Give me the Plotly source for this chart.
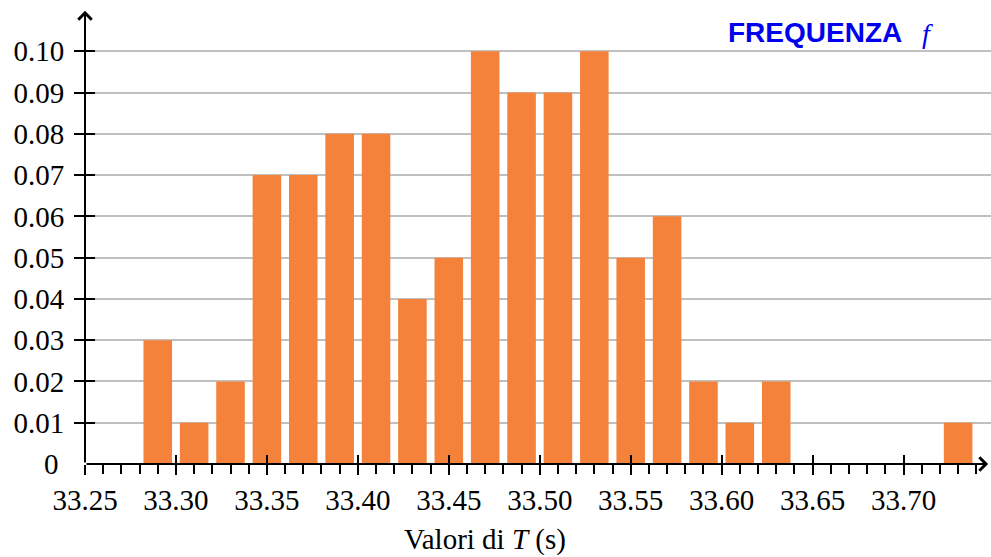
import plotly.graph_objects as go

centers = [33.29, 33.31, 33.33, 33.35, 33.37, 33.39, 33.41, 33.43, 33.45, 33.47,
           33.49, 33.51, 33.53, 33.55, 33.57, 33.59, 33.61, 33.63, 33.65, 33.67,
           33.69, 33.71, 33.73]
freq = [0.03, 0.01, 0.02, 0.07, 0.07, 0.08, 0.08, 0.04, 0.05, 0.10,
        0.09, 0.09, 0.10, 0.05, 0.06, 0.02, 0.01, 0.02, 0.0, 0.0,
        0.0, 0.0, 0.01]
x_ticks = [33.25, 33.30, 33.35, 33.40, 33.45, 33.50, 33.55, 33.60, 33.65, 33.70]
x_labels = ["33.25", "33.30", "33.35", "33.40", "33.45", "33.50", "33.55", "33.60", "33.65", "33.70"]
y_ticks = [0.01, 0.02, 0.03, 0.04, 0.05, 0.06, 0.07, 0.08, 0.09, 0.10]
y_labels = ["0.01", "0.02", "0.03", "0.04", "0.05", "0.06", "0.07", "0.08", "0.09", "0.10"]

W, H = 991, 557
ML, MR, MT, MB = 85, 0, 10, 93
XMIN = 33.25
XMAX = 33.25 + (W - ML - MR) / 1819.0
YMAX = 0.11
XEND = 33.7465

SERIF = "Liberation Serif"
BAR_COLOR = "#F4823A"
GRID = "#c0c0c0"
FS = 29

fig = go.Figure()
fig.add_trace(go.Bar(x=centers, y=freq, width=0.0157, marker=dict(color=BAR_COLOR, line=dict(width=0)),
                     hoverinfo="skip"))
# invisible trace for overlay axes (crossing ticks)
fig.add_trace(go.Scatter(x=[XMIN], y=[0], xaxis="x2", yaxis="y2", mode="markers",
                         marker=dict(opacity=0), hoverinfo="skip", showlegend=False))

fig.update_layout(
    width=W, height=H,
    margin=dict(l=ML, r=MR, t=MT, b=MB, pad=0),
    plot_bgcolor="white", paper_bgcolor="white",
    showlegend=False,
    xaxis=dict(range=[XMIN, XMAX], tickvals=x_ticks, ticktext=x_labels,
               ticks="outside", ticklen=10, tickwidth=2, tickcolor="black",
               minor=dict(dtick=0.01, tick0=33.25, ticks="outside", ticklen=9, tickwidth=2,
                          tickcolor="black", showgrid=False),
               showgrid=False, zeroline=False, showline=False,
               tickfont=dict(family=SERIF, size=FS, color="black"), ticklabelstandoff=0),
    yaxis=dict(range=[0, YMAX], tickvals=y_ticks, ticktext=y_labels,
               ticks="outside", ticklen=10, tickwidth=2, tickcolor="black",
               showgrid=True, gridcolor=GRID, gridwidth=2,
               minor=dict(dtick=0.01, tick0=0, ticks="", showgrid=True, gridcolor=GRID, gridwidth=2),
               zeroline=False, showline=False,
               tickfont=dict(family=SERIF, size=FS, color="black"), ticklabelstandoff=4),
    xaxis2=dict(range=[XMIN, XMAX], overlaying="x", anchor="y2", side="bottom",
                tickvals=x_ticks[1:], ticks="inside", ticklen=9, tickwidth=2, tickcolor="black",
                showticklabels=False, showgrid=False, zeroline=False, showline=False),
    yaxis2=dict(range=[0, YMAX], overlaying="y", anchor="x2", side="left",
                tickvals=y_ticks, ticks="inside", ticklen=10, tickwidth=2, tickcolor="black",
                showticklabels=False, showgrid=False, zeroline=False, showline=False),
)

# axis lines with arrows
fig.add_annotation(x=XEND, y=0, ax=XMIN, ay=0, xref="x", yref="y", axref="x", ayref="y",
                   text="", showarrow=True, arrowhead=4, arrowsize=1.3, arrowwidth=2, arrowcolor="black")
fig.add_annotation(x=XMIN, y=0.1098, ax=XMIN, ay=0, xref="x", yref="y", axref="x", ayref="y",
                   text="", showarrow=True, arrowhead=4, arrowsize=1.3, arrowwidth=2, arrowcolor="black")

def px(xp):
    return (xp - ML) / (W - ML - MR)

def py(yp):
    return (H - MB - yp) / (H - MT - MB)

fig.add_annotation(x=px(61), y=0, xref="paper", yref="y", text="0", showarrow=False,
                   xanchor="right", yanchor="middle", font=dict(family=SERIF, size=FS, color="black"))
fig.add_annotation(x=px(485), y=py(539), xref="paper", yref="paper",
                   text="Valori di <i>T</i> (s)", showarrow=False, xanchor="center", yanchor="middle",
                   font=dict(family=SERIF, size=FS, color="black"))
fig.add_annotation(x=px(815), y=py(33), xref="paper", yref="paper",
                   text="<b>FREQUENZA</b>", showarrow=False, xanchor="center", yanchor="middle",
                   font=dict(family="Liberation Sans", size=28, color="#0000ee"))
fig.add_annotation(x=px(927), y=py(34), xref="paper", yref="paper",
                   text="<i>f</i>", showarrow=False, xanchor="center", yanchor="middle",
                   font=dict(family=SERIF, size=28, color="#0000ee"))

fig.write_html("out.html")
